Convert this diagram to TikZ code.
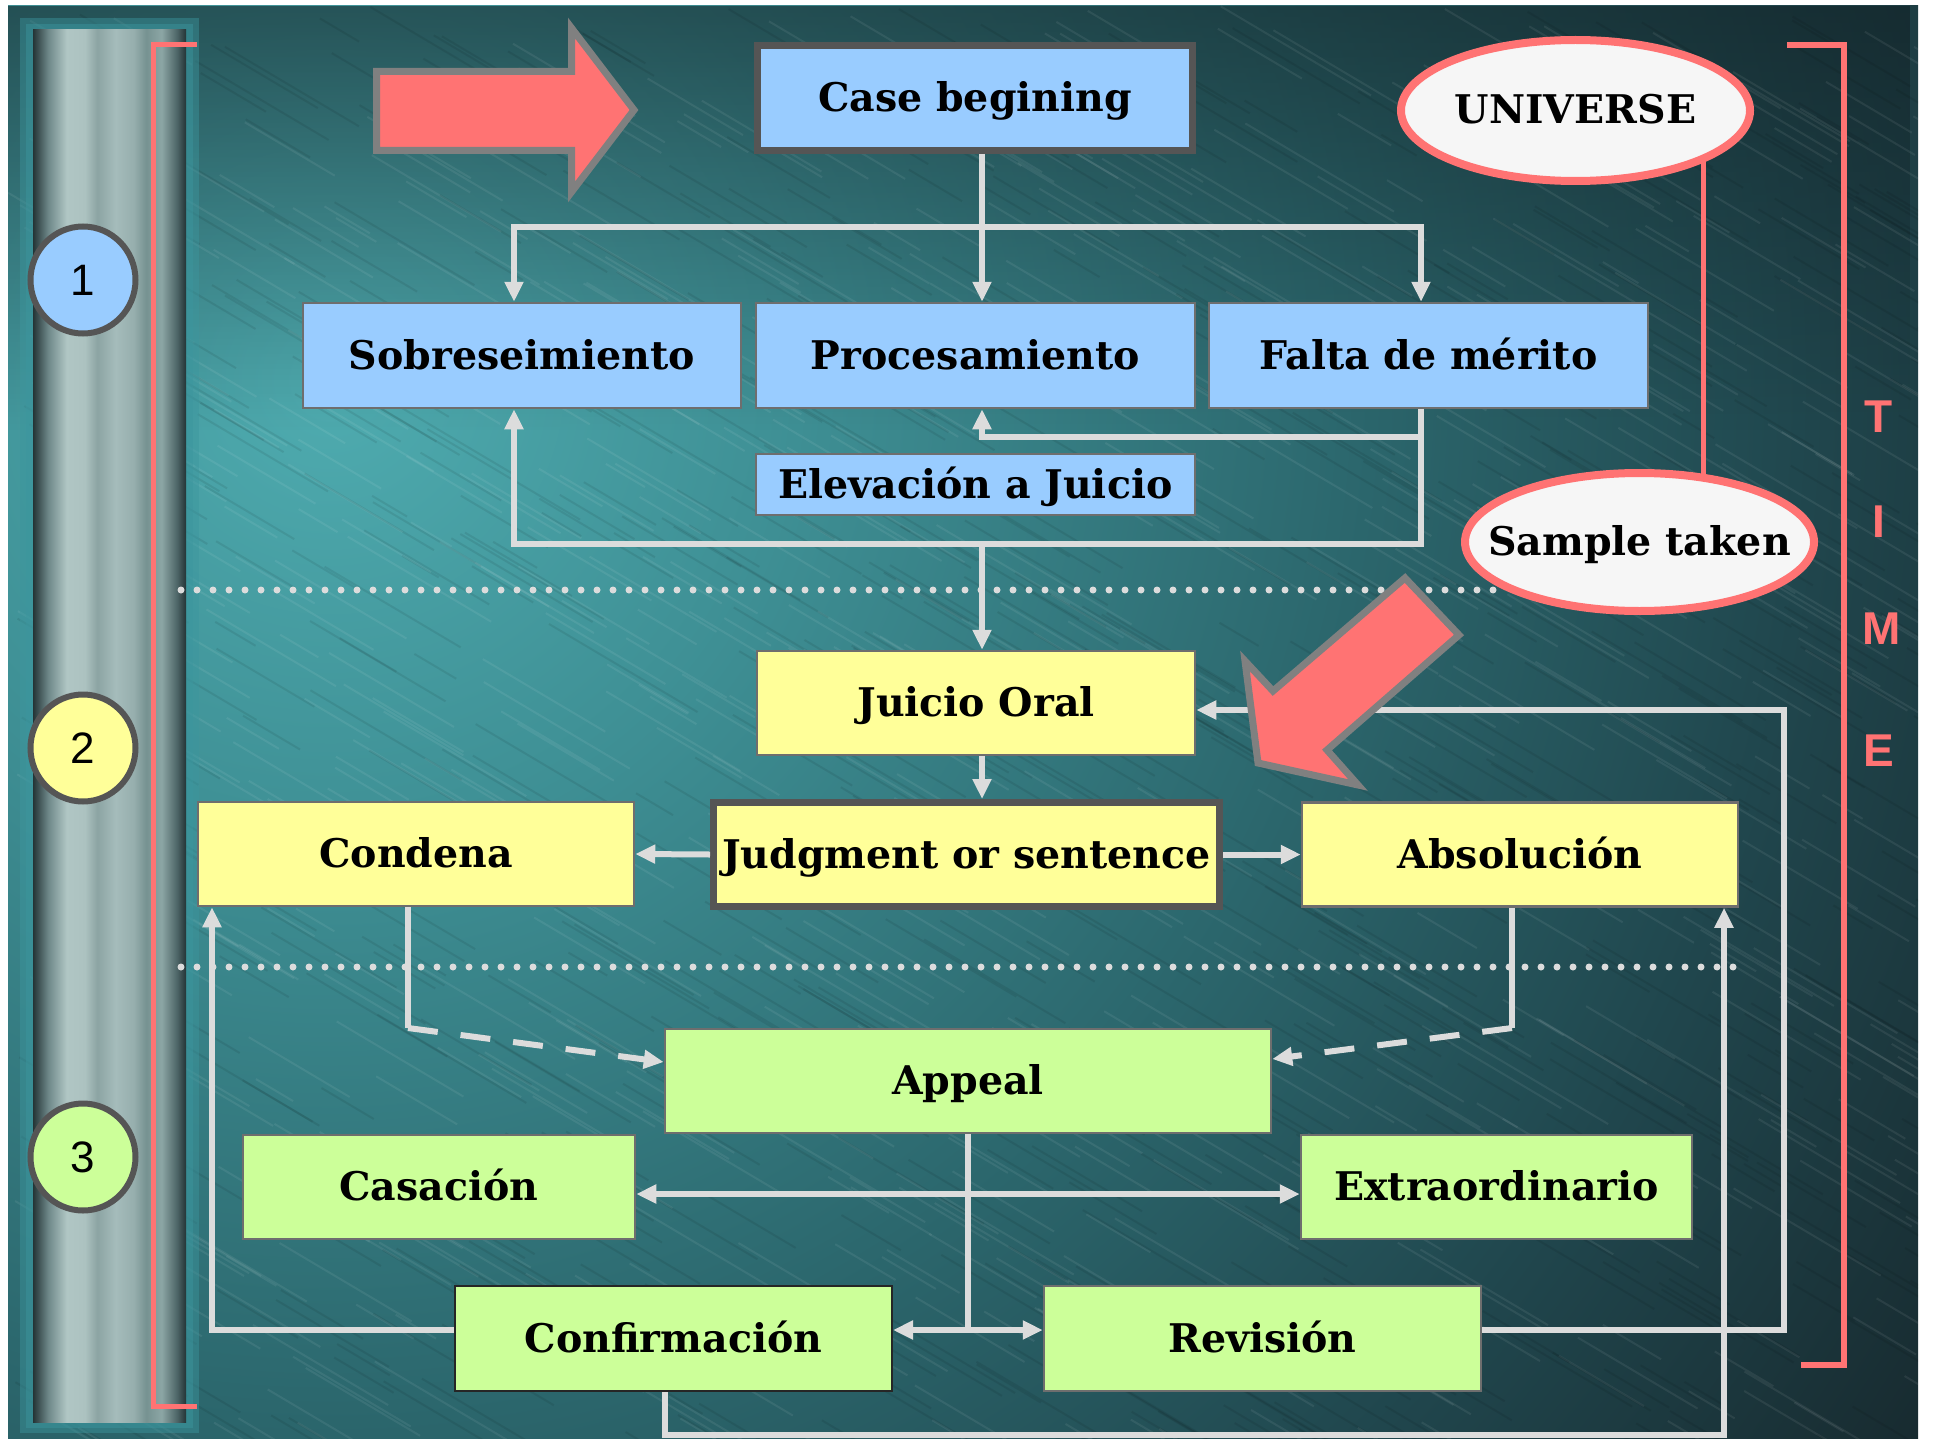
\documentclass[tikz,border=0pt]{standalone}
\usepackage{fontspec}
\setmainfont{DejaVu Serif}
\newfontfamily\lsans{Liberation Sans}
\usetikzlibrary{arrows.meta,shapes.geometric,fadings}
\definecolor{boxblue}{HTML}{99CCFF}
\definecolor{boxyellow}{HTML}{FFFF99}
\definecolor{boxgreen}{HTML}{CCFF99}
\definecolor{pinkred}{HTML}{FF7373}
\definecolor{connc}{HTML}{DCDCDC}
\definecolor{thickb}{HTML}{555555}
\definecolor{thinb}{HTML}{6E6E6E}
\definecolor{arrb}{HTML}{808080}
\definecolor{ellfill}{HTML}{F6F6F6}
\definecolor{halo}{RGB}{60,150,158}
\definecolor{bgA}{RGB}{79,172,176}
\definecolor{bgB}{RGB}{62,143,148}
\definecolor{bgC}{RGB}{44,104,110}
\definecolor{bgD}{RGB}{32,70,77}
\definecolor{bgE}{RGB}{23,40,45}
\definecolor{topdark}{RGB}{16,30,34}
\definecolor{plA}{RGB}{36,52,54}
\definecolor{plB}{RGB}{110,136,137}
\definecolor{plC}{RGB}{176,198,196}
\definecolor{plD}{RGB}{172,194,192}
\definecolor{plE}{RGB}{140,164,163}
\definecolor{plF}{RGB}{165,188,187}
\definecolor{plG}{RGB}{150,174,173}
\definecolor{plH}{RGB}{118,146,145}
\definecolor{plI}{RGB}{140,166,165}
\definecolor{plJ}{RGB}{78,102,104}
\pgfdeclareradialshading{bgshade}{\pgfpoint{0bp}{0bp}}{%
  color(0bp)=(bgA);%
  color(6bp)=(bgB);%
  color(13bp)=(bgC);%
  color(19bp)=(bgD);%
  color(25bp)=(bgE);%
  color(50bp)=(bgE)}
\pgfdeclarehorizontalshading{pillarshade}{100bp}{%
  color(0bp)=(plA);%
  color(25bp)=(plA);%
  color(30bp)=(plB);%
  color(36bp)=(plC);%
  color(42bp)=(plD);%
  color(46bp)=(plE);%
  color(52bp)=(plF);%
  color(58bp)=(plG);%
  color(62bp)=(plH);%
  color(67bp)=(plI);%
  color(72bp)=(plJ);%
  color(75bp)=(plA);%
  color(100bp)=(plA)}
\tikzfading[name=topfade, top color=transparent!0, bottom color=transparent!100]
\begin{document}
\begin{tikzpicture}[x=1pt,y=-1pt,
  txt/.style={font=\bfseries\fontsize{39.5}{46}\selectfont, text=black, inner sep=0pt, align=center, text height=27pt, text depth=0pt},
  bbox/.style={txt, rectangle, draw=thinb, line width=2.5pt, fill=boxblue, minimum height=105pt},
  ybox/.style={txt, rectangle, draw=thinb, line width=2.5pt, fill=boxyellow, minimum height=104pt},
  gbox/.style={txt, rectangle, draw=thinb, line width=2.5pt, fill=boxgreen, minimum height=104pt},
  thick box/.style={draw=thickb, line width=7pt},
  conn/.style={draw=connc, line width=6pt},
  dashconn/.style={dash pattern=on 30pt off 23pt},
  dotline/.style={draw=connc, line width=7pt, line cap=round, dash pattern=on 0pt off 16pt},
  redline/.style={draw=pinkred, line width=5pt},
  stage/.style={ellipse, draw=thickb, line width=6pt, minimum width=105pt, minimum height=107pt, inner sep=0pt, font=\lsans\fontsize{44}{50}\selectfont, text height=31.5pt, text depth=0pt},
  oval/.style={txt, ellipse, draw=pinkred, fill=ellfill, line width=8pt, minimum width=349pt, minimum height=141pt},
  bigarrow/.style={fill=pinkred, draw=arrb, line width=7pt, line join=miter},
  timel/.style={text=pinkred, font=\lsans\bfseries\fontsize{46}{50}\selectfont, inner sep=0pt, text height=33pt, text depth=0pt},
  streak/.style={line width=2pt},
  >={Triangle[length=20pt,width=18pt]}
]
\useasboundingbox (0,0) rectangle (1937,1439);
\fill[white] (0,0) rectangle (1937,1439);
% background
\begin{scope}
\clip (8,6) rectangle (1918,1439);
\shade[shading=bgshade] (330,380) circle (1950);
\fill[topdark, path fading=topfade, fill opacity=0.55] (8,6) rectangle (1918,430);
\pgfmathsetseed{7}
\foreach \i in {1,...,700}{
  \pgfmathsetmacro{\sx}{8+rnd*1910}
  \pgfmathsetmacro{\sy}{6+rnd*1433}
  \pgfmathsetmacro{\sl}{40+rnd*140}
  \draw[streak, white, draw opacity=0.07] (\sx,\sy) -- ++(0.86*\sl,0.51*\sl);
  \pgfmathsetmacro{\tx}{8+rnd*1910}
  \pgfmathsetmacro{\ty}{6+rnd*1433}
  \draw[streak, black, draw opacity=0.08] (\tx,\ty) -- ++(0.86*\sl,0.51*\sl);
}
\end{scope}
% pillar
\fill[halo, fill opacity=0.45] (20,18) rectangle (199,1433);
\fill[halo, fill opacity=0.45] (26,24) rectangle (193,1428);
\shade[shading=pillarshade] (33,30) rectangle (186,1422);
% left bracket
\draw[redline, line width=5pt] (197,45) -- (153,45) -- (153,1406) -- (197,1406);
% stage circles
\node[stage, fill=boxblue] (s1) at (83,280) {1};
\node[stage, fill=boxyellow] (s2) at (83,748) {2};
\node[stage, fill=boxgreen] (s3) at (83,1157) {3};
% dotted separators
\draw[dotline] (181,590) -- (1495,590);
\draw[dotline] (181,967) -- (1738,967);
% right bracket and TIME
\draw[redline, line width=6pt] (1787,45) -- (1844,45) -- (1844,1365) -- (1801,1365);
\node[timel] (tT) at (1879,416) {T};
\node[timel] (tI) at (1879,521) {I};
\node[timel] (tM) at (1882,628) {M};
\node[timel] (tE) at (1879,750) {E};
% boxes
\node[bbox, thick box, minimum width=435pt] (case) at (975,98) {Case begining};
\node[bbox, minimum width=438pt] (sob) at (522,355.5) {Sobreseimiento};
\node[bbox, minimum width=439pt] (proc) at (975.5,355.5) {Procesamiento};
\node[bbox, minimum width=439pt] (falta) at (1428.5,355.5) {Falta de mérito};
\node[bbox, minimum width=439pt, minimum height=61pt] (elev) at (975.5,484.5) {Elevación a Juicio};
\node[ybox, minimum width=438pt] (juicio) at (976,703) {Juicio Oral};
\node[ybox, thick box, minimum width=506pt] (judg) at (966.5,854.5) {Judgment or sentence};
\node[ybox, minimum width=436pt] (cond) at (416,854) {Condena};
\node[ybox, minimum width=436pt] (abs) at (1520,854.5) {Absolución};
\node[gbox, minimum width=606pt] (appeal) at (968,1081) {Appeal};
\node[gbox, minimum width=392pt] (cas) at (439,1187) {Casación};
\node[gbox, minimum width=391pt] (extra) at (1496.5,1187) {Extraordinario};
\node[gbox, draw=black!85, line width=2pt, minimum width=437pt, minimum height=105pt] (conf) at (673.5,1338.5) {Confirmación};
\node[gbox, minimum width=437pt, minimum height=105pt] (rev) at (1262.5,1338.5) {Revisión};
% helper coordinates
\coordinate (xA) at (982,0);
\coordinate (xS) at (514,0);
\coordinate (xF) at (1421,0);
\coordinate (jTop) at (982,227);
\coordinate (kP) at (982,437);
\coordinate (kS) at (982,544);
\coordinate (xC) at (408,0);
\coordinate (cC) at (408,1028);
\coordinate (yAL) at (0,1062);
\coordinate (xB) at (1512,0);
\coordinate (cB) at (1512,1028);
\coordinate (yAR) at (0,1059);
\coordinate (xP) at (968,0);
\coordinate (yCE) at (0,1194);
\coordinate (yCR) at (0,1330);
\coordinate (xL) at (212,0);
\coordinate (bL) at (665,1435);
\coordinate (xAb) at (1724,0);
\coordinate (xR) at (1784,0);
\coordinate (yJ) at (0,710);
% connectors
\draw[conn,->] (case.south -| xA) -- (proc.north -| xA);
\draw[conn,->] (jTop) -| (sob.north -| xS);
\draw[conn,->] (jTop) -| (falta.north -| xF);
\draw[conn,->] (falta.south -| xF) |- (kP) -- (proc.south -| xA);
\draw[conn,->] (falta.south -| xF) |- (kS) -| (sob.south -| xS);
\draw[conn,->] (kS) -- (juicio.north -| xA);
\draw[conn,->] (juicio.south -| xA) -- (judg.north -| xA);
\draw[conn,->] (judg.west) -- (cond.east);
\draw[conn,->] (judg.east) -- (abs.west);
\draw[conn] (cond.south -| xC) -- (cC);
\draw[conn,dashconn,->] (cC) -- (appeal.west |- yAL);
\draw[conn] (abs.south -| xB) -- (cB);
\draw[conn,dashconn,->] (cB) -- (appeal.east |- yAR);
\draw[conn] (appeal.south -| xP) -- (xP |- yCR);
\draw[conn,<->] (cas.east |- yCE) -- (extra.west |- yCE);
\draw[conn,<->] (conf.east |- yCR) -- (rev.west |- yCR);
\draw[conn,->] (conf.west |- yCR) -| (cond.south -| xL);
\draw[conn,->] (conf.south -| bL) -- (bL) -| (abs.south -| xAb);
\draw[conn,->] (rev.east |- yCR) -| (xR |- yJ) -- (juicio.east |- yJ);
% universe and sample
\draw[redline] (1703,110) -- (1703,542);
\node[oval] (uni) at (1575.5,110.5) {\makebox[0pt]{UNIVERSE}};
\node[oval, minimum height=138pt] (samp) at (1639.5,542) {\makebox[0pt]{Sample taken}};
% big arrows
\draw[bigarrow] (376.5,71.5) -- (571.5,71.5) -- (571.5,28) -- (634,110) -- (571.5,192) -- (571.5,150.5) -- (376.5,150.5) -- cycle;
\draw[bigarrow] (1405,578) -- (1459,635) -- (1327,750) -- (1358,785) -- (1258,763) -- (1245,661) -- (1273,691) -- cycle;
\end{tikzpicture}
\end{document}
